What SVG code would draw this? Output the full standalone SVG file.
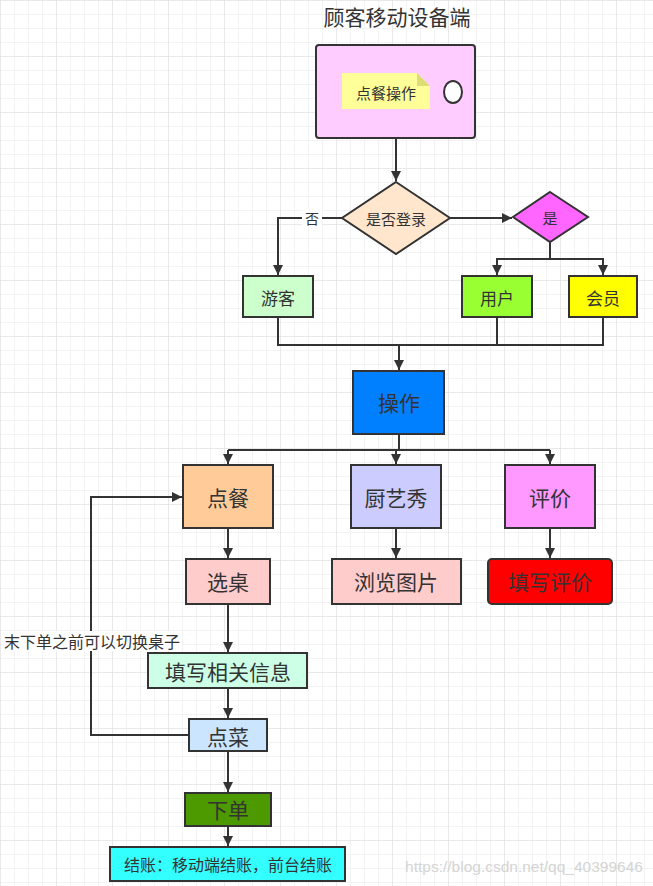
<svg xmlns="http://www.w3.org/2000/svg" width="653" height="886" viewBox="0 0 653 886">
<style>
text{font-family:"Noto Sans CJK SC","Noto Sans",sans-serif;fill:#333;text-anchor:middle;dominant-baseline:central}
.n{stroke:#333;stroke-width:2}
.c{fill:none;stroke:#333;stroke-width:2}
.a{marker-end:url(#arr)}
</style>
<defs>
<pattern id="gm" width="14" height="14" patternUnits="userSpaceOnUse">
<path d="M14 0H0V14" fill="none" stroke="#e8e8e8" stroke-width="1"/>
</pattern>
<pattern id="gM" width="56" height="56" patternUnits="userSpaceOnUse">
<rect width="56" height="56" fill="url(#gm)"/>
<path d="M56 0H0V56" fill="none" stroke="#dedede" stroke-width="1"/>
</pattern>
<marker id="arr" viewBox="0 0 10 10" refX="10" refY="5" markerWidth="5" markerHeight="5" orient="auto" markerUnits="strokeWidth">
<path d="M0 0L10 5L0 10z" fill="#333"/>
</marker>
</defs>
<rect width="653" height="886" fill="#fff"/>
<rect width="653" height="886" fill="url(#gM)"/>
<text x="397" y="16" font-size="21">顾客移动设备端</text>

<g id="connectors">
<path class="c a" d="M396 138V181"/>
<path class="c a" d="M342 218H278V275"/>
<path class="c a" d="M450 218H512"/>
<path class="c" d="M550 242V259"/>
<path class="c a" d="M496 259H497V275"/>
<path class="c a" d="M496 259H603V275"/>
<path class="c" d="M278 317V345H603V317M497 317V345"/>
<path class="c a" d="M399 345V370"/>
<path class="c" d="M399 434V450M228 450H550"/>
<path class="c a" d="M228 450V464"/>
<path class="c a" d="M396 450V464"/>
<path class="c a" d="M550 450V464"/>
<path class="c a" d="M228 528V558"/>
<path class="c a" d="M396 528V558"/>
<path class="c a" d="M550 528V558"/>
<path class="c a" d="M228 604V652"/>
<path class="c a" d="M228 688V718"/>
<path class="c a" d="M228 751V792"/>
<path class="c a" d="M228 826V846"/>
<path class="c a" d="M189 735H91V497H182"/>
<rect x="302" y="209" width="20" height="18" fill="#fff"/>
<text x="312" y="218" font-size="14">否</text>
<rect x="2" y="631" width="180" height="20" fill="#fff"/>
<text x="92" y="641" font-size="16">末下单之前可以切换桌子</text>
</g>

<g id="device">
<rect class="n" x="316" y="45" width="159" height="93" rx="3" fill="#FFCCFF"/>
<path d="M342 73H417L430 86V109H342z" fill="#FFFF99"/>
<path d="M417 73L430 86H417z" fill="#DDDD77"/>
<text x="386" y="92" font-size="15">点餐操作</text>
<ellipse class="n" cx="453" cy="92" rx="9" ry="11" fill="#fff"/>
</g>
<g id="login">
<path class="n" d="M396 182L450 218L396 254L342 218z" fill="#FFE6CC"/>
<text x="396" y="218" font-size="15">是否登录</text>
</g>
<g id="yes">
<path class="n" d="M550 192L588 217L550 242L513 217z" fill="#FF66FF"/>
<text x="550" y="217" font-size="15">是</text>
</g>
<g id="guest">
<rect class="n" x="243" y="276" width="70" height="41" fill="#CCFFCC"/>
<text x="278" y="297" font-size="17">游客</text>
</g>
<g id="user">
<rect class="n" x="462" y="276" width="70" height="41" fill="#99FF33"/>
<text x="497" y="297" font-size="17">用户</text>
</g>
<g id="member">
<rect class="n" x="569" y="276" width="68" height="41" fill="#FFFF00"/>
<text x="603" y="297" font-size="17">会员</text>
</g>
<g id="operate">
<rect class="n" x="353" y="371" width="91" height="63" fill="#007FFF"/>
<text x="399" y="402" font-size="21">操作</text>
</g>
<g id="order">
<rect class="n" x="183" y="465" width="90" height="63" fill="#FFCC99"/>
<text x="228" y="497" font-size="21">点餐</text>
</g>
<g id="chef">
<rect class="n" x="351" y="465" width="90" height="63" fill="#CCCCFF"/>
<text x="396" y="497" font-size="21">厨艺秀</text>
</g>
<g id="review">
<rect class="n" x="505" y="465" width="90" height="63" fill="#FF99FF"/>
<text x="550" y="497" font-size="21">评价</text>
</g>
<g id="table">
<rect class="n" x="186" y="559" width="84" height="45" fill="#FFCCCC"/>
<text x="228" y="581" font-size="21">选桌</text>
</g>
<g id="browse">
<rect class="n" x="332" y="559" width="129" height="45" fill="#FFCCCC"/>
<text x="396" y="581" font-size="21">浏览图片</text>
</g>
<g id="writereview">
<rect class="n" x="488" y="559" width="124" height="45" rx="4" fill="#FF0000"/>
<text x="550" y="581" font-size="21">填写评价</text>
</g>
<g id="info">
<rect class="n" x="148" y="653" width="159" height="35" fill="#CCFFE6"/>
<text x="228" y="671" font-size="21">填写相关信息</text>
</g>
<g id="dish">
<rect class="n" x="189" y="719" width="78" height="32" fill="#CCE5FF"/>
<text x="228" y="736" font-size="21">点菜</text>
</g>
<g id="place">
<rect class="n" x="185" y="793" width="86" height="33" fill="#4D9900"/>
<text x="228" y="809" font-size="21">下单</text>
</g>
<g id="pay">
<rect class="n" x="110" y="847" width="235" height="34" fill="#33FFFF"/>
<text x="228" y="864" font-size="16">结账：移动端结账，前台结账</text>
</g>
<text x="524" y="866" font-size="15.5" style="fill:#d4d4d4;font-family:'Liberation Sans',sans-serif">https://blog.csdn.net/qq_40399646</text>
</svg>
